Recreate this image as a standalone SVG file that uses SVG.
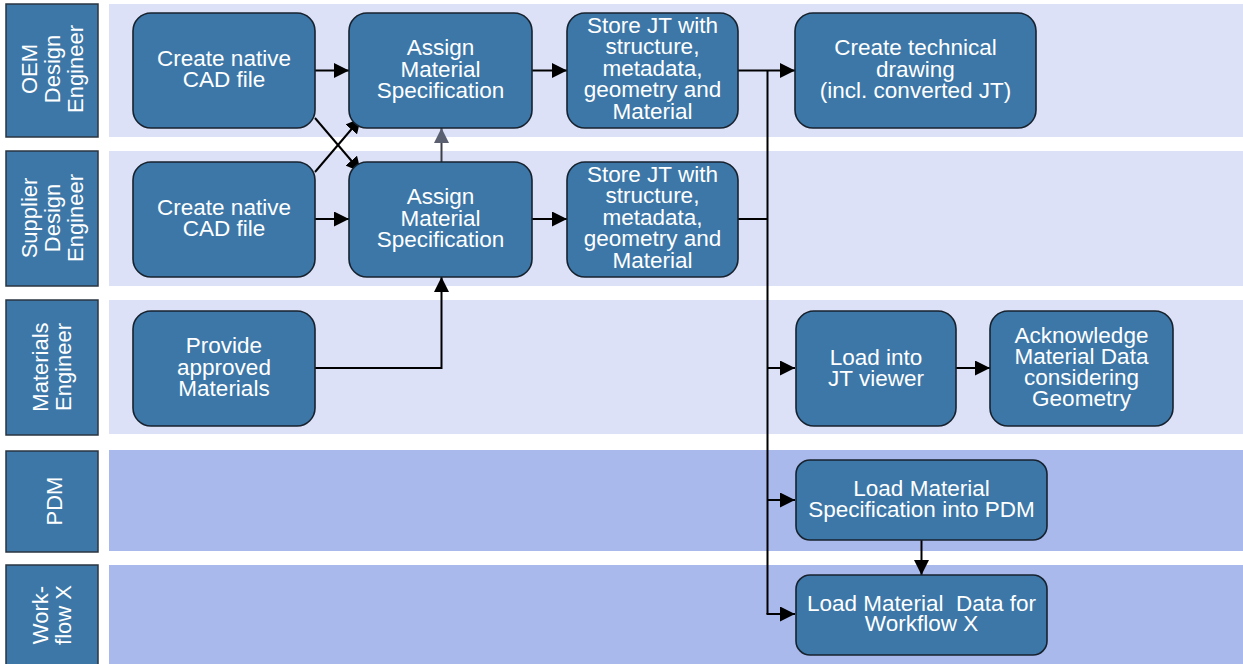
<svg xmlns="http://www.w3.org/2000/svg" width="1243" height="664" viewBox="0 0 1243 664">
  <style>
    .lane-light { fill: #dde1f7; }
    .lane-dark { fill: #aab9ec; }
    .lane-label { fill: #3c77a8; stroke: #2a3440; stroke-width: 1.5; }
    .node { fill: #3c77a8; stroke: #17222e; stroke-width: 1.6; }
    .txt { fill: #ffffff; font-family: "Liberation Sans", Arial, sans-serif; font-size: 22.5px; text-anchor: middle; }
    .lbl { fill: #ffffff; font-family: "Liberation Sans", Arial, sans-serif; font-size: 22px; text-anchor: middle; }
    .conn { fill: none; stroke: #000000; stroke-width: 2; }
    .conn-grey { fill: none; stroke: #3a3f4a; stroke-width: 2; }
  </style>
  <defs>
    <marker id="arrow" markerUnits="userSpaceOnUse" markerWidth="15" markerHeight="15" refX="15" refY="7.5" orient="auto">
      <path d="M0,0 L15,7.5 L0,15 Z" fill="#000000"/>
    </marker>
    <marker id="arrow-grey" markerUnits="userSpaceOnUse" markerWidth="15" markerHeight="15" refX="15" refY="7.5" orient="auto">
      <path d="M0,0 L15,7.5 L0,15 Z" fill="#5a6070"/>
    </marker>
  </defs>

  <rect width="1243" height="664" fill="#ffffff"/>

  <!-- swimlane backgrounds -->
  <g id="lanes">
    <rect class="lane-light" x="109" y="4" width="1134" height="133"/>
    <rect class="lane-light" x="109" y="151" width="1134" height="135"/>
    <rect class="lane-light" x="109" y="300" width="1134" height="134"/>
    <rect class="lane-dark" x="109" y="450" width="1134" height="101"/>
    <rect class="lane-dark" x="109" y="565" width="1134" height="99"/>
  </g>

  <!-- swimlane headers -->
  <g id="lane-oem">
    <rect class="lane-label" x="6" y="4" width="92" height="133"/>
    <g transform="translate(0 69) rotate(-90)">
      <text class="lbl" x="0" y="37">OEM</text>
      <text class="lbl" x="0" y="60">Design</text>
      <text class="lbl" x="0" y="83">Engineer</text>
    </g>
  </g>
  <g id="lane-supplier">
    <rect class="lane-label" x="6" y="151" width="92" height="135"/>
    <g transform="translate(0 218) rotate(-90)">
      <text class="lbl" x="0" y="37">Supplier</text>
      <text class="lbl" x="0" y="60">Design</text>
      <text class="lbl" x="0" y="83">Engineer</text>
    </g>
  </g>
  <g id="lane-materials">
    <rect class="lane-label" x="6" y="300" width="92" height="135"/>
    <g transform="translate(0 367) rotate(-90)">
      <text class="lbl" x="0" y="48">Materials</text>
      <text class="lbl" x="0" y="71">Engineer</text>
    </g>
  </g>
  <g id="lane-pdm">
    <rect class="lane-label" x="6" y="451" width="92" height="101"/>
    <g transform="translate(0 501) rotate(-90)">
      <text class="lbl" x="0" y="62">PDM</text>
    </g>
  </g>
  <g id="lane-workflow">
    <rect class="lane-label" x="6" y="565" width="92" height="104"/>
    <g transform="translate(0 615) rotate(-90)">
      <text class="lbl" x="0" y="48">Work-</text>
      <text class="lbl" x="0" y="71">flow X</text>
    </g>
  </g>

  <!-- connectors -->
  <g id="connectors">
    <line class="conn" x1="315" y1="70.5" x2="349" y2="70.5" marker-end="url(#arrow)"/>
    <line class="conn" x1="315" y1="219" x2="349" y2="219" marker-end="url(#arrow)"/>
    <line class="conn" x1="315" y1="118" x2="361" y2="172" marker-end="url(#arrow)"/>
    <line class="conn" x1="315" y1="172" x2="361" y2="118" marker-end="url(#arrow)"/>
    <line class="conn-grey" x1="441.5" y1="162" x2="441.5" y2="128" marker-end="url(#arrow-grey)"/>
    <line class="conn" x1="532" y1="70.5" x2="567" y2="70.5" marker-end="url(#arrow)"/>
    <line class="conn" x1="532" y1="219" x2="567" y2="219" marker-end="url(#arrow)"/>
    <line class="conn" x1="738" y1="70.5" x2="795" y2="70.5" marker-end="url(#arrow)"/>
    <line class="conn" x1="738" y1="219" x2="768" y2="219"/>
    <line class="conn" x1="767.5" y1="70.5" x2="767.5" y2="614"/>
    <polyline class="conn" points="315,368 441.5,368 441.5,277" marker-end="url(#arrow)"/>
    <line class="conn" x1="767.5" y1="368" x2="795" y2="368" marker-end="url(#arrow)"/>
    <line class="conn" x1="767.5" y1="500" x2="795" y2="500" marker-end="url(#arrow)"/>
    <line class="conn" x1="766.5" y1="614" x2="795" y2="614" marker-end="url(#arrow)"/>
    <line class="conn" x1="956" y1="368" x2="990" y2="368" marker-end="url(#arrow)"/>
    <line class="conn" x1="921.5" y1="540" x2="921.5" y2="575" marker-end="url(#arrow)"/>
  </g>

  <!-- OEM Design Engineer -->
  <g id="oem-create-cad">
    <rect class="node" x="133" y="13" width="182" height="115" rx="18"/>
    <text class="txt" x="224" y="66">Create native</text>
    <text class="txt" x="224" y="87">CAD file</text>
  </g>
  <g id="oem-assign-material">
    <rect class="node" x="349" y="13" width="183" height="115" rx="18"/>
    <text class="txt" x="440.5" y="55">Assign</text>
    <text class="txt" x="440.5" y="77">Material</text>
    <text class="txt" x="440.5" y="98">Specification</text>
  </g>
  <g id="oem-store-jt">
    <rect class="node" x="567" y="13" width="171" height="115" rx="18"/>
    <text class="txt" x="652.5" y="33">Store JT with</text>
    <text class="txt" x="652.5" y="54">structure,</text>
    <text class="txt" x="652.5" y="76">metadata,</text>
    <text class="txt" x="652.5" y="97">geometry and</text>
    <text class="txt" x="652.5" y="119">Material</text>
  </g>
  <g id="oem-technical-drawing">
    <rect class="node" x="795" y="13" width="241" height="115" rx="18"/>
    <text class="txt" x="915.5" y="55">Create technical</text>
    <text class="txt" x="915.5" y="76.5">drawing</text>
    <text class="txt" x="915.5" y="98">(incl. converted JT)</text>
  </g>

  <!-- Supplier Design Engineer -->
  <g id="supplier-create-cad">
    <rect class="node" x="133" y="162" width="182" height="115" rx="18"/>
    <text class="txt" x="224" y="215">Create native</text>
    <text class="txt" x="224" y="236">CAD file</text>
  </g>
  <g id="supplier-assign-material">
    <rect class="node" x="349" y="162" width="183" height="115" rx="18"/>
    <text class="txt" x="440.5" y="204">Assign</text>
    <text class="txt" x="440.5" y="226">Material</text>
    <text class="txt" x="440.5" y="247">Specification</text>
  </g>
  <g id="supplier-store-jt">
    <rect class="node" x="567" y="162" width="171" height="115" rx="18"/>
    <text class="txt" x="652.5" y="182">Store JT with</text>
    <text class="txt" x="652.5" y="203">structure,</text>
    <text class="txt" x="652.5" y="225">metadata,</text>
    <text class="txt" x="652.5" y="246">geometry and</text>
    <text class="txt" x="652.5" y="268">Material</text>
  </g>

  <!-- Materials Engineer -->
  <g id="provide-materials">
    <rect class="node" x="133" y="311" width="182" height="115" rx="18"/>
    <text class="txt" x="224" y="353">Provide</text>
    <text class="txt" x="224" y="374.5">approved</text>
    <text class="txt" x="224" y="396">Materials</text>
  </g>
  <g id="load-jt-viewer">
    <rect class="node" x="796" y="311" width="160" height="115" rx="18"/>
    <text class="txt" x="876" y="365">Load into</text>
    <text class="txt" x="876" y="386">JT viewer</text>
  </g>
  <g id="acknowledge-material">
    <rect class="node" x="990" y="311" width="183" height="115" rx="18"/>
    <text class="txt" x="1081.5" y="343">Acknowledge</text>
    <text class="txt" x="1081.5" y="364">Material Data</text>
    <text class="txt" x="1081.5" y="385">considering</text>
    <text class="txt" x="1081.5" y="406">Geometry</text>
  </g>

  <!-- PDM -->
  <g id="load-pdm">
    <rect class="node" x="796" y="460" width="251" height="80" rx="14"/>
    <text class="txt" x="921.5" y="496">Load Material</text>
    <text class="txt" x="921.5" y="517">Specification into PDM</text>
  </g>

  <!-- Workflow X -->
  <g id="load-workflow">
    <rect class="node" x="796" y="575" width="251" height="80" rx="14"/>
    <text class="txt" x="921.5" y="611" xml:space="preserve">Load Material  Data for</text>
    <text class="txt" x="921.5" y="631">Workflow X</text>
  </g>
</svg>
